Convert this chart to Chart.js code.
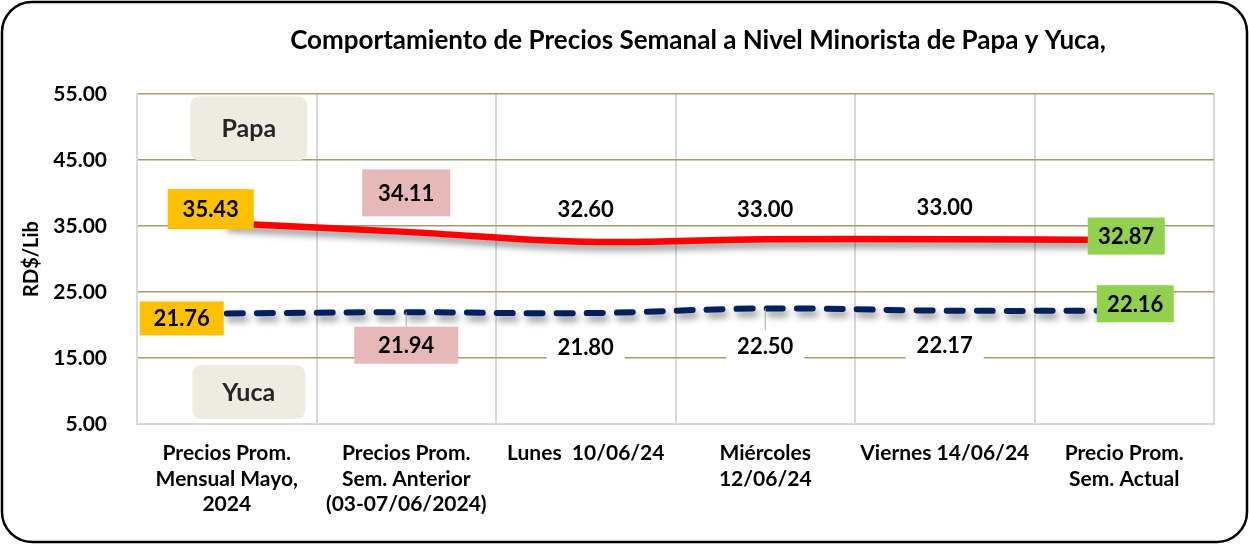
<!DOCTYPE html>
<html>
<head>
<meta charset="utf-8">
<script src="https://cdn.jsdelivr.net/npm/chart.js@4.4.1/dist/chart.umd.min.js"></script>
<style>
  html, body { margin: 0; padding: 0; background: #fff; overflow: hidden; }
  canvas { display: block; }
</style>
</head>
<body>
<canvas id="preciosChart" width="1249" height="544"></canvas>
<script>
// categories on the x axis (multi-line labels)
const categorias = [
    ['Precios Prom.', 'Mensual Mayo,', '2024'],
    ['Precios Prom.', 'Sem. Anterior', '(03-07/06/2024)'],
    'Lunes  10/06/24',
    ['Miércoles', '12/06/24'],
    'Viernes 14/06/24',
    ['Precio Prom.', 'Sem. Actual']
];

// RD$/Lib
const papa = [35.43, 34.11, 32.60, 33.00, 33.00, 32.87];
const yuca = [21.76, 21.94, 21.80, 22.50, 22.17, 22.16];

const yMin = 5;
const yMax = 55;
const yStep = 10;

const titulo = 'Comportamiento de Precios Semanal a Nivel Minorista de Papa y Yuca,';

// label boxes: offset from the point, size and fill (style only)
const NARANJA = '#FFC000', ROSA = '#E6B9B8', VERDE = '#92D050', BLANCO = '#FFFFFF';
const papaLabels = [
    { dx: -16, dy: -14, w: 86, h: 40, bg: NARANJA },
    { dx: 0, dy: -39, w: 88, h: 47, bg: ROSA },
    { dx: 0, dy: -33, w: 78, h: 30, bg: BLANCO },
    { dx: 0, dy: -30, w: 78, h: 30, bg: BLANCO },
    { dx: 0, dy: -32, w: 78, h: 30, bg: BLANCO },
    { dx: 2, dy: -4, w: 77, h: 37, bg: VERDE }
];
const yucaLabels = [
    { dx: -45, dy: 5, w: 84, h: 34, bg: NARANJA },
    { dx: 0, dy: 33, w: 104, h: 37, bg: ROSA, leader: true },
    { dx: 0, dy: 34, w: 78, h: 30, bg: BLANCO },
    { dx: 0, dy: 37, w: 78, h: 30, bg: BLANCO, leader: true },
    { dx: 0, dy: 34, w: 78, h: 30, bg: BLANCO },
    { dx: 11, dy: -7, w: 77, h: 37, bg: VERDE }
];

const FONT = 'Lato, "Open Sans", sans-serif';

function roundRect(ctx, x, y, w, h, r) {
    ctx.beginPath();
    ctx.moveTo(x + r, y);
    ctx.arcTo(x + w, y, x + w, y + h, r);
    ctx.arcTo(x + w, y + h, x, y + h, r);
    ctx.arcTo(x, y + h, x, y, r);
    ctx.arcTo(x, y, x + w, y, r);
    ctx.closePath();
}

// frame, title and white background
const marco = {
    id: 'marco',
    beforeDraw(chart) {
        const ctx = chart.ctx;
        ctx.save();
        ctx.fillStyle = '#fff';
        ctx.fillRect(0, 0, chart.width, chart.height);
        ctx.strokeStyle = '#000';
        ctx.lineWidth = 2.5;
        roundRect(ctx, 2, 2, chart.width - 4, chart.height - 4, 30);
        ctx.stroke();
        ctx.fillStyle = '#000';
        ctx.font = 'bold 26px ' + FONT;
        ctx.textAlign = 'center';
        ctx.textBaseline = 'middle';
        ctx.fillText(titulo, 698, 41);
        ctx.restore();
    }
};

// drop shadow under the lines
const sombra = {
    id: 'sombra',
    beforeDatasetDraw(chart) {
        const ctx = chart.ctx;
        ctx.save();
        ctx.shadowColor = 'rgba(0,0,0,0.45)';
        ctx.shadowBlur = 7;
        ctx.shadowOffsetX = 3;
        ctx.shadowOffsetY = 5;
    },
    afterDatasetDraw(chart) {
        chart.ctx.restore();
    }
};

// value labels + Papa / Yuca tags
const etiquetas = {
    id: 'etiquetas',
    afterDatasetsDraw(chart) {
        const ctx = chart.ctx;
        const sets = [[0, papaLabels], [1, yucaLabels]];
        ctx.save();
        sets.forEach(([di, estilos]) => {
            const meta = chart.getDatasetMeta(di);
            const valores = chart.data.datasets[di].data;
            meta.data.forEach((pt, i) => {
                const s = estilos[i];
                const cx = pt.x + s.dx, cy = pt.y + s.dy;
                if (s.leader) {
                    ctx.strokeStyle = '#A6A6A6';
                    ctx.lineWidth = 1;
                    ctx.beginPath();
                    ctx.moveTo(pt.x, pt.y);
                    ctx.lineTo(cx, cy - s.h / 2);
                    ctx.stroke();
                }
                ctx.fillStyle = s.bg;
                ctx.fillRect(cx - s.w / 2, cy - s.h / 2, s.w, s.h);
                ctx.fillStyle = '#000';
                ctx.font = 'bold 22px ' + FONT;
                ctx.textAlign = 'center';
                ctx.textBaseline = 'middle';
                ctx.fillText(valores[i].toFixed(2), cx, cy + 1);
            });
        });

        // series tags inside the first category
        const xs = chart.scales.x, ys = chart.scales.y;
        const tx = xs.getPixelForValue(0);
        [['Papa', 49.8, 117, 64], ['Yuca', 9.85, 113, 54]].forEach(([txt, v, w, h]) => {
            const ty = ys.getPixelForValue(v);
            ctx.fillStyle = '#EEECE1';
            roundRect(ctx, tx + 22 - w / 2, ty - h / 2, w, h, 9);
            ctx.fill();
            ctx.fillStyle = '#262626';
            ctx.font = 'bold 25px ' + FONT;
            ctx.textAlign = 'center';
            ctx.textBaseline = 'middle';
            ctx.fillText(txt, tx + 22, ty + 1);
        });
        ctx.restore();
    }
};

new Chart(document.getElementById('preciosChart'), {
    type: 'line',
    data: {
        labels: categorias,
        datasets: [
            {
                label: 'Papa',
                data: papa,
                borderColor: '#FF0000',
                borderWidth: 6.5,
                tension: 0.4,
                pointRadius: 0,
                borderCapStyle: 'round'
            },
            {
                label: 'Yuca',
                data: yuca,
                borderColor: '#002060',
                borderWidth: 6,
                borderDash: [16, 14],
                borderCapStyle: 'round',
                tension: 0.4,
                pointRadius: 0
            }
        ]
    },
    options: {
        responsive: false,
        animation: false,
        layout: { padding: { top: 94, right: 35, bottom: 0, left: 0 } },
        plugins: {
            legend: { display: false },
            tooltip: { enabled: false }
        },
        scales: {
            x: {
                offset: true,
                grid: { offset: true, color: '#D9D9D9', lineWidth: 2, drawTicks: false },
                border: { color: '#D9D9D9', width: 2 },
                ticks: {
                    color: '#000',
                    font: { family: FONT, size: 21, weight: 'bold', lineHeight: 1.2 },
                    padding: 17,
                    maxRotation: 0,
                    autoSkip: false
                },
                afterFit(scale) { scale.height = 120; }
            },
            y: {
                min: yMin,
                max: yMax,
                grid: {
                    drawTicks: false,
                    lineWidth: 1.5,
                    color: c => (c.tick && c.tick.value === yMin) ? 'rgba(0,0,0,0)' : '#A59D6E'
                },
                border: { color: '#D9D9D9', width: 2 },
                ticks: {
                    stepSize: yStep,
                    color: '#000',
                    padding: 30,
                    font: { family: FONT, size: 21, weight: 'bold' },
                    callback: v => v.toFixed(2)
                },
                title: {
                    display: true,
                    text: 'RD$/Lib',
                    color: '#000',
                    font: { family: FONT, size: 20, weight: 'bold' },
                    padding: { top: 20, bottom: 0 }
                },
                afterFit(scale) { scale.width = 137; }
            }
        }
    },
    plugins: [marco, sombra, etiquetas]
});
</script>
</body>
</html>
